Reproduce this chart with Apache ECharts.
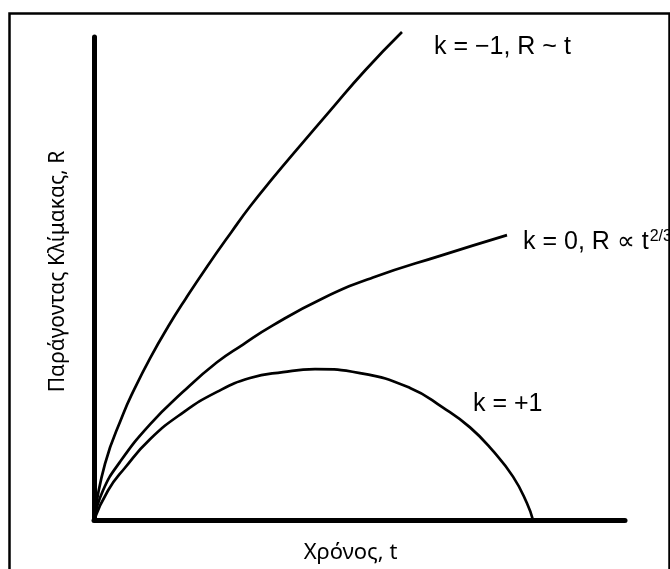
<!DOCTYPE html>
<html><head><meta charset="utf-8">
<script src="https://cdn.jsdelivr.net/npm/echarts@6/dist/echarts.min.js"></script>
<style>html,body{margin:0;padding:0;background:#fff}#c{width:670px;height:569px}</style>
</head><body><div id="c"></div>
<script>
// Time (t) and scale factor (R) samples (arbitrary units)
const openT   = [0, 0.207, 0.546, 0.753, 1.055, 1.394, 1.733, 2.128, 2.599, 2.938, 3.371, 3.823, 4.444, 5.104, 5.800];
const openR   = [0, 1.163, 2.184, 2.694, 3.347, 4.000, 4.592, 5.245, 5.980, 6.490, 7.082, 7.673, 8.469, 9.306, 10.102];
const flatT   = [0, 0.169, 0.490, 1.055, 1.676, 2.316, 2.806, 3.352, 4.313, 5.254, 6.516, 7.778];
const flatR   = [0, 0.612, 1.204, 1.980, 2.653, 3.265, 3.633, 4.020, 4.592, 5.020, 5.469, 5.898];
const closedT = [0, 0.264, 0.584, 1.055, 1.676, 2.316, 2.938, 3.559, 4.162, 5.009, 5.951, 6.573, 7.081, 7.514, 7.891, 8.154, 8.267];
const closedR = [0, 0.612, 1.082, 1.673, 2.224, 2.653, 2.939, 3.061, 3.122, 3.041, 2.735, 2.327, 1.918, 1.429, 0.898, 0.347, 0];
const seriesNames = ['k = −1, R ~ t', 'k = 0, R ∝ t', 'k = +1'];
const xName = 'Χρόνος, t';
const yName = 'Παράγοντας Κλίμακας, R';

const zip = (a, b) => a.map((v, i) => [v, b[i]]);
const chart = echarts.init(document.getElementById('c'), null, {renderer: 'canvas'});
const lineStyle = {color: '#000', width: 2.7};
const labFont = {fontFamily: 'Liberation Sans, Arial, sans-serif', fontSize: 25, color: '#000'};
const base = {type: 'line', smooth: 0.5, symbol: 'none', clip: false, lineStyle: lineStyle};
chart.setOption({
  animation: false,
  backgroundColor: '#fff',
  grid: {left: 94, right: 45, top: 37, bottom: 42},
  xAxis: {
    type: 'value', min: 0, max: 10,
    name: xName, nameLocation: 'middle', nameGap: 22,
    nameTextStyle: {fontFamily: 'Noto Sans', fontSize: 22, color: '#000', padding: [0, 18, 0, 0]},
    axisLine: {show: true, onZero: false, lineStyle: {color: '#000', width: 5}},
    axisTick: {show: false}, axisLabel: {show: false}, splitLine: {show: false}
  },
  yAxis: {
    type: 'value', min: 0, max: 10,
    name: yName, nameLocation: 'middle', nameGap: 25, nameRotate: 90,
    nameTextStyle: {fontFamily: 'Noto Sans', fontSize: 21, color: '#000', padding: [0, 0, 0, 14]},
    axisLine: {show: true, onZero: false, lineStyle: {color: '#000', width: 5}},
    axisTick: {show: false}, axisLabel: {show: false}, splitLine: {show: false}
  },
  series: [
    {
      ...base, name: seriesNames[0], data: zip(openT, openR),
      endLabel: {show: true, formatter: seriesNames[0], offset: [24, 15], ...labFont}
    },
    {
      ...base, name: seriesNames[1], data: zip(flatT, flatR),
      endLabel: {
        show: true, offset: [8, 7],
        formatter: '{a|' + seriesNames[1] + '}{s|2/3}',
        rich: {
          a: {...labFont},
          s: {fontFamily: 'Liberation Sans, Arial, sans-serif', fontSize: 16, color: '#000', verticalAlign: 'top', padding: [0, 0, 12, 1]}
        }
      }
    },
    {...base, name: seriesNames[2], data: zip(closedT, closedR)}
  ],
  graphic: [
    {type: 'rect', left: 7, top: 11, shape: {width: 660, height: 600}, style: {fill: 'none', stroke: '#000', lineWidth: 2.5}, silent: true},
    {type: 'text', left: 473, top: 392, style: {text: seriesNames[2], font: '25px "Liberation Sans", Arial, sans-serif', fill: '#000'}}
  ]
});
</script></body></html>
